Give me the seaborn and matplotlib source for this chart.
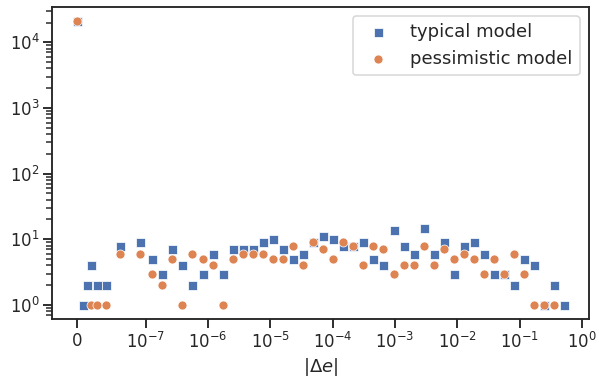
import numpy as np
import pandas as pd
import matplotlib
matplotlib.use("Agg")
import matplotlib.pyplot as plt
import seaborn as sns

sns.set_theme(style="ticks", context="talk")

# |delta e| bins (0 first, then log spaced bins)
delta_e = [0,
           9.4e-9, 1.45e-8, 2.1e-8, 3.0e-8, 4.3e-8, 6.3e-8, 9.1e-8,
           1.27e-7, 1.84e-7, 2.67e-7, 3.86e-7, 5.60e-7, 8.12e-7,
           1.18e-6, 1.71e-6, 2.48e-6, 3.59e-6, 5.21e-6, 7.55e-6,
           1.10e-5, 1.59e-5, 2.30e-5, 3.34e-5, 4.84e-5, 7.02e-5,
           1.02e-4, 1.48e-4, 2.14e-4, 3.10e-4, 4.50e-4, 6.53e-4, 9.47e-4,
           1.37e-3, 1.99e-3, 2.89e-3, 4.19e-3, 6.07e-3, 8.81e-3,
           1.28e-2, 1.85e-2, 2.69e-2, 3.89e-2, 5.65e-2, 8.19e-2,
           1.19e-1, 1.72e-1, 2.50e-1, 3.62e-1, 5.25e-1]

# counts per bin
typical = [21000,
           1, 2, 4, 2, 2, 8, 9,
           5, 3, 7, 4, 2, 3,
           6, 3, 7, 7, 7, 9,
           10, 7, 5, 6, 9, 11,
           10, 8, 8, 9, 5, 4, 14,
           8, 6, 15, 6, 9, 3,
           8, 9, 6, 3, 3, 2,
           5, 4, 1, 2, 1]

pessimistic = [21000,
               np.nan, np.nan, 1, 1, 1, 6, 6,
               3, 2, 5, 1, 6, 5,
               4, 1, 5, 6, 6, 6,
               5, 5, 8, 4, 9, 7,
               5, 9, 8, 4, 8, 7, 3,
               4, 4, 8, 4, 7, 5,
               6, 5, 3, 5, 3, 6,
               3, 1, 1, 1, np.nan]

df = pd.DataFrame({"delta_e": delta_e, "typical": typical, "pessimistic": pessimistic})
pal = sns.color_palette("deep")

fig, ax = plt.subplots(figsize=(599 / 72, 380 / 72), dpi=72)
fig.subplots_adjust(left=0.0873, right=0.983, bottom=0.1605, top=0.9816)

d1 = df.dropna(subset=["typical"])
d2 = df.dropna(subset=["pessimistic"])
sns.scatterplot(x=d1["delta_e"], y=d1["typical"], marker="s", color=pal[0],
                label="typical model", ax=ax)
sns.scatterplot(x=d2["delta_e"], y=d2["pessimistic"], marker="o", color=pal[1],
                label="pessimistic model", ax=ax)

ax.set_xscale("symlog", linthresh=1e-7)
ax.set_yscale("log")
ax.set_xlabel(r"$|\Delta e|$")
ax.set_ylabel("")
ax.legend(loc="upper right", fontsize=18)

fig.savefig("out.png", dpi=72)
